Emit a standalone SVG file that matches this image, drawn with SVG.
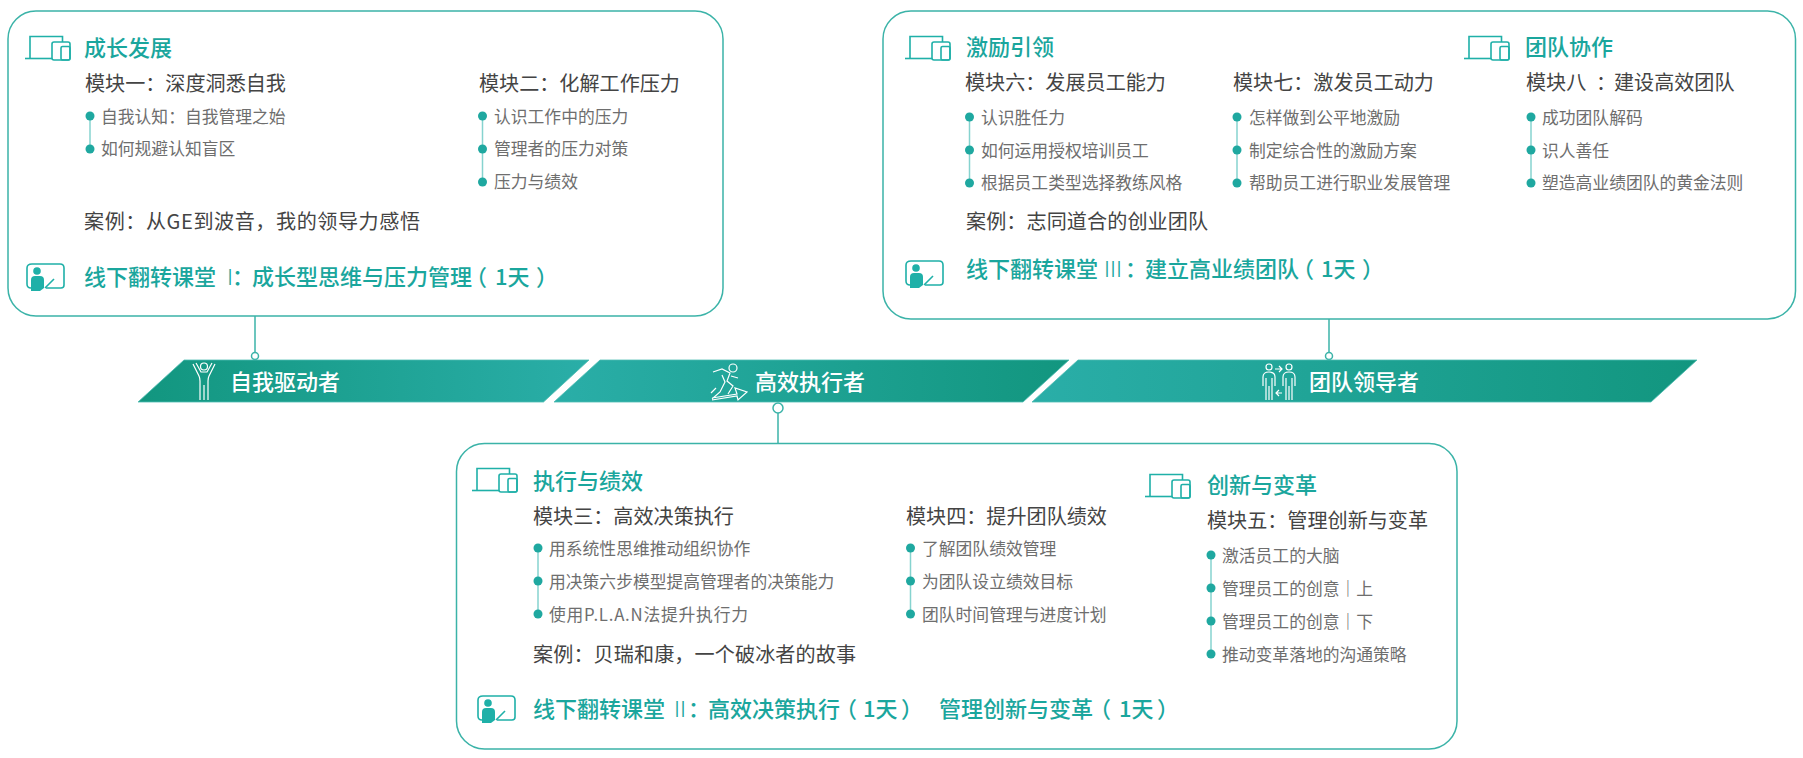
<svg xmlns="http://www.w3.org/2000/svg" width="1803" height="758" viewBox="0 0 1803 758">
<style>
text{font-family:"Noto Sans CJK SC","Noto Sans",sans-serif;font-weight:400}
.box{fill:#fff;stroke:#3bb3a8;stroke-width:1.5}
.t{font-size:22px;fill:#1aa69d;font-weight:500}
.o{font-size:22px;fill:#1aa69d;font-weight:500}
.n{font-weight:300;font-feature-settings:"palt"}
.h{font-feature-settings:"halt"}
.m{font-size:20.100px;fill:#444}
.i{font-size:16.800px;fill:#6e6e6e}
.r{font-size:22px;fill:#fff;font-weight:500}
.b{fill:#1fa8a0}
.v{stroke:#86d3cf;stroke-width:1.5;fill:none}
.ic{fill:none;stroke:#1fb0a8;stroke-width:1.6}
.w{fill:none;stroke:#fff;stroke-width:1.2}
.cn{stroke:#3bb3a8;stroke-width:1.5;fill:none}
.dot{fill:#fff;stroke:#3bb3a8;stroke-width:1.5}
.rb{stroke:#4fbdb2;stroke-width:.8}
</style>
<defs>
<linearGradient id="gd" x1="0" x2="1" y1="0" y2="0"><stop offset="0" stop-color="#12967f"/><stop offset="1" stop-color="#2aaea8"/></linearGradient>
<linearGradient id="gl" x1="0" x2="1" y1="0" y2="0"><stop offset="0" stop-color="#2aaea8"/><stop offset="1" stop-color="#12967f"/></linearGradient>
<g id="devices">
<path class="ic" d="M5 23V1.500H37.500V7"/>
<path class="ic" d="M0 23.500H27" stroke-width="2"/>
<rect class="ic" x="27" y="7" width="18" height="18" rx="2"/>
<rect class="ic" x="36" y="11.500" width="9" height="13.500" rx="1.500"/>
</g>
<g id="board">
<path class="ic" stroke-width="2.200" d="M6 1H34Q38 1 38 5V22Q38 25 35 25H20M5 25Q1 25 1 21V5Q1 1 6 1"/>
<circle cx="11" cy="8" r="3.800" fill="#1fb0a8"/>
<path d="M5 17Q5 13 9 13H14Q18 13 18 17V25L14 28H5Z" fill="#1fb0a8"/>
<path class="ic" d="M19 25L28 16"/>
</g>
</defs>
<g id="connectors">
<path class="cn" d="M255 316V352"/>
<circle class="dot" cx="255" cy="356" r="3.500"/>
<path class="cn" d="M1329 319V352"/>
<circle class="dot" cx="1329" cy="356" r="3.500"/>
<path class="cn" d="M778 413V443"/>
<circle class="dot" cx="778" cy="408" r="5"/>
</g>
<g id="ribbon-self">
<path class="rb" d="M184 360H589L543.500 402H138Z" fill="url(#gd)"/>
<circle class="w" cx="204" cy="366.500" r="3.500"/>
<path class="w" d="M193 364L199 376Q200 378 200 381V400M204 400V385M215 364L209 376Q208 378 208 381V400M196 363L201 372H207L212 363"/>
<text class="r" x="230" y="390">自我驱动者</text>
</g>
<g id="ribbon-exec">
<path class="rb" d="M600 360H1069L1023 402H554Z" fill="url(#gl)"/>
<circle class="w" cx="733" cy="368" r="4"/>
<path class="w" d="M713 372L722 369L730 373L727 381L733 386L728 394M722 375L725 382L720 392L712 399M731 376L738 378M716 388L711 393M712 398L737 394L735 388L747 392L738 400L737 396L712 400"/>
<text class="r" x="755" y="390">高效执行者</text>
</g>
<g id="ribbon-lead">
<path class="rb" d="M1078 360H1697L1651 402H1032Z" fill="url(#gl)"/>
<circle class="w" cx="1269" cy="367" r="3"/>
<circle class="w" cx="1289" cy="367" r="3"/>
<path class="w" d="M1263 386V377Q1263 372 1269 372Q1275 372 1275 377V386M1266 378V400M1269 386V400M1272 378V400M1283 386V377Q1283 372 1289 372Q1295 372 1295 377V386M1286 378V400M1289 386V400M1292 378V400M1275 369H1282M1279 366L1282 369L1279 372M1276 393H1282M1279 390L1276 393L1279 396"/>
<text class="r" x="1309" y="390">团队领导者</text>
</g>
<g id="box-growth">
<rect class="box" x="8" y="11" width="715" height="305" rx="28"/>
<use href="#devices" x="25" y="35"/>
<text class="t" x="84" y="56">成长发展</text>
<text class="m" x="85" y="91">模块一：深度洞悉自我</text>
<path class="v" d="M90 116V149"/>
<circle class="b" cx="90" cy="116" r="4.500"/><circle class="b" cx="90" cy="149" r="4.500"/>
<text class="i" x="101" y="123">自我认知：自我管理之始</text>
<text class="i" x="101" y="155">如何规避认知盲区</text>
<text class="m" x="479" y="91">模块二：化解工作压力</text>
<path class="v" d="M482.500 116V182"/>
<circle class="b" cx="482.500" cy="116" r="4.500"/><circle class="b" cx="482.500" cy="149" r="4.500"/><circle class="b" cx="482.500" cy="182" r="4.500"/>
<text class="i" x="494" y="123">认识工作中的压力</text>
<text class="i" x="494" y="155">管理者的压力对策</text>
<text class="i" x="494" y="188">压力与绩效</text>
<text class="m" x="84" y="229" textLength="336">案例：从GE到波音，我的领导力感悟</text>
<use href="#board" x="26" y="263"/>
<text class="o" x="84" y="285">线下翻转课堂<tspan class="n" x="219">Ⅰ</tspan><tspan class="h" x="232">：</tspan><tspan x="252">成长型思维与压力管理</tspan><tspan class="h" x="476">（</tspan><tspan x="495">1天</tspan><tspan class="h" x="536">）</tspan></text>
</g>
<g id="box-lead">
<rect class="box" x="883" y="11" width="912.500" height="308" rx="28"/>
<use href="#devices" x="905" y="35"/>
<text class="t" x="966" y="55">激励引领</text>
<use href="#devices" x="1464" y="35"/>
<text class="t" x="1525" y="55">团队协作</text>
<text class="m" x="965" y="90">模块六：发展员工能力</text>
<path class="v" d="M969.500 117V183"/>
<circle class="b" cx="969.500" cy="117" r="4.500"/><circle class="b" cx="969.500" cy="150" r="4.500"/><circle class="b" cx="969.500" cy="183" r="4.500"/>
<text class="i" x="981" y="124">认识胜任力</text>
<text class="i" x="981" y="157">如何运用授权培训员工</text>
<text class="i" x="981" y="189">根据员工类型选择教练风格</text>
<text class="m" x="1233" y="90">模块七：激发员工动力</text>
<path class="v" d="M1237 117V183"/>
<circle class="b" cx="1237" cy="117" r="4.500"/><circle class="b" cx="1237" cy="150" r="4.500"/><circle class="b" cx="1237" cy="183" r="4.500"/>
<text class="i" x="1249" y="124">怎样做到公平地激励</text>
<text class="i" x="1249" y="157">制定综合性的激励方案</text>
<text class="i" x="1249" y="189">帮助员工进行职业发展管理</text>
<text class="m" x="1526" y="90">模块八<tspan class="h" x="1596">：</tspan><tspan x="1614">建设高效团队</tspan></text>
<path class="v" d="M1531 117V183"/>
<circle class="b" cx="1531" cy="117" r="4.500"/><circle class="b" cx="1531" cy="150" r="4.500"/><circle class="b" cx="1531" cy="183" r="4.500"/>
<text class="i" x="1542" y="124">成功团队解码</text>
<text class="i" x="1542" y="157">识人善任</text>
<text class="i" x="1542" y="189">塑造高业绩团队的黄金法则</text>
<text class="m" x="966" y="229" textLength="242">案例：志同道合的创业团队</text>
<use href="#board" x="905" y="260"/>
<text class="o" x="966" y="277">线下翻转课堂<tspan class="n" x="1102">Ⅲ</tspan><tspan class="h" x="1125">：</tspan><tspan x="1145">建立高业绩团队</tspan><tspan class="h" x="1303">（</tspan><tspan x="1321">1天</tspan><tspan class="h" x="1362">）</tspan></text>
</g>
<g id="box-exec">
<rect class="box" x="456.500" y="443.500" width="1000.500" height="305.500" rx="28"/>
<use href="#devices" x="472" y="467"/>
<text class="t" x="533" y="489">执行与绩效</text>
<use href="#devices" x="1145" y="473"/>
<text class="t" x="1207" y="493">创新与变革</text>
<text class="m" x="533" y="524">模块三：高效决策执行</text>
<path class="v" d="M538 548V614"/>
<circle class="b" cx="538" cy="548" r="4.500"/><circle class="b" cx="538" cy="581" r="4.500"/><circle class="b" cx="538" cy="614" r="4.500"/>
<text class="i" x="549" y="555">用系统性思维推动组织协作</text>
<text class="i" x="549" y="588">用决策六步模型提高管理者的决策能力</text>
<text class="i" x="549" y="621" textLength="199">使用P.L.A.N法提升执行力</text>
<text class="m" x="906" y="524">模块四：提升团队绩效</text>
<path class="v" d="M910.500 548V614"/>
<circle class="b" cx="910.500" cy="548" r="4.500"/><circle class="b" cx="910.500" cy="581" r="4.500"/><circle class="b" cx="910.500" cy="614" r="4.500"/>
<text class="i" x="922" y="555">了解团队绩效管理</text>
<text class="i" x="922" y="588">为团队设立绩效目标</text>
<text class="i" x="922" y="621">团队时间管理与进度计划</text>
<text class="m" x="1207" y="528">模块五：管理创新与变革</text>
<path class="v" d="M1211 555V654"/>
<circle class="b" cx="1211" cy="555" r="4.500"/><circle class="b" cx="1211" cy="588" r="4.500"/><circle class="b" cx="1211" cy="621" r="4.500"/><circle class="b" cx="1211" cy="654" r="4.500"/>
<text class="i" x="1222" y="562">激活员工的大脑</text>
<text class="i" x="1222" y="595">管理员工的创意｜上</text>
<text class="i" x="1222" y="628">管理员工的创意｜下</text>
<text class="i" x="1222" y="661">推动变革落地的沟通策略</text>
<text class="m" x="533" y="662" textLength="323">案例：贝瑞和康，一个破冰者的故事</text>
<use href="#board" x="477" y="695"/>
<text class="o" x="533" y="717">线下翻转课堂<tspan class="n" x="669">Ⅱ</tspan><tspan class="h" x="688">：</tspan><tspan x="708">高效决策执行</tspan><tspan class="h" x="846">（</tspan><tspan x="863">1天</tspan><tspan class="h" x="901">）</tspan><tspan x="939">管理创新与变革</tspan><tspan class="h" x="1100">（</tspan><tspan x="1119">1天</tspan><tspan class="h" x="1157">）</tspan></text>
</g>
</svg>
